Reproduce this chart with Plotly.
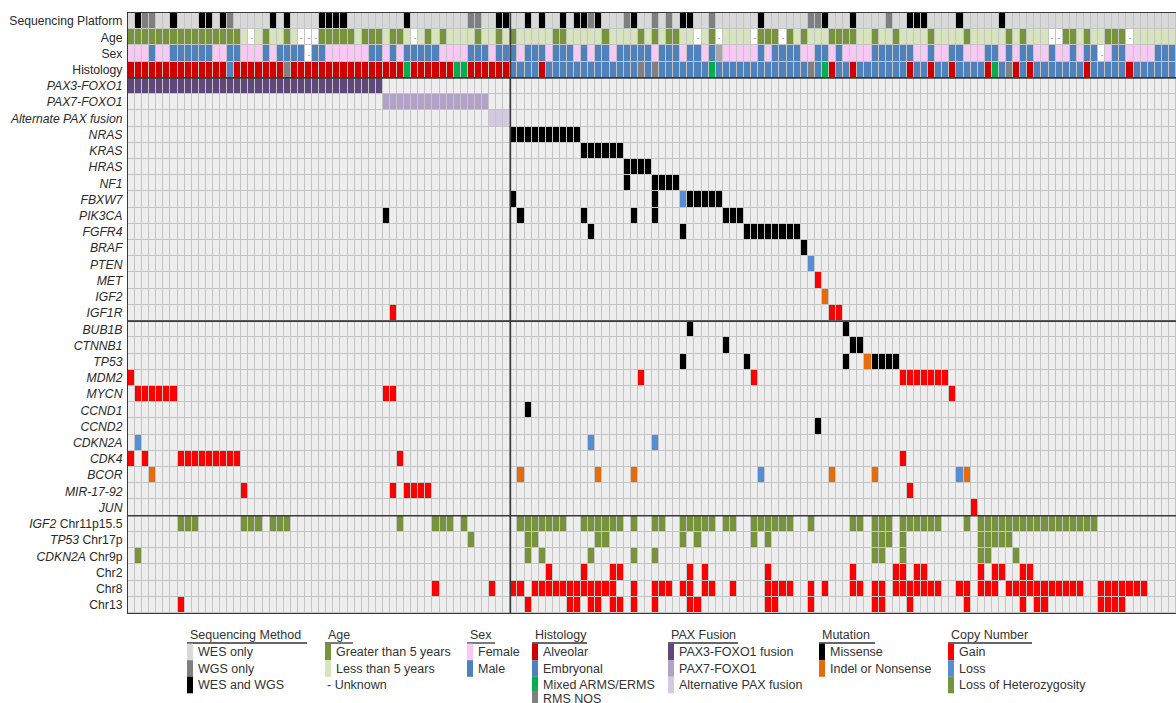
import plotly.graph_objects as go

N_SAMPLES = 148


def expand(items):
    out = []
    for it in items:
        if isinstance(it, tuple):
            out.extend(range(it[0], it[1] + 1))
        else:
            out.append(it)
    return out


row_labels = [
    "Sequencing Platform", "Age", "Sex", "Histology",
    "<i>PAX3-FOXO1</i>", "<i>PAX7-FOXO1</i>", "<i>Alternate PAX fusion</i>",
    "<i>NRAS</i>", "<i>KRAS</i>", "<i>HRAS</i>", "<i>NF1</i>", "<i>FBXW7</i>", "<i>PIK3CA</i>",
    "<i>FGFR4</i>", "<i>BRAF</i>", "<i>PTEN</i>", "<i>MET</i>", "<i>IGF2</i>", "<i>IGF1R</i>",
    "<i>BUB1B</i>", "<i>CTNNB1</i>", "<i>TP53</i>", "<i>MDM2</i>", "<i>MYCN</i>", "<i>CCND1</i>",
    "<i>CCND2</i>", "<i>CDKN2A</i>", "<i>CDK4</i>", "<i>BCOR</i>", "<i>MIR-17-92</i>", "<i>JUN</i>",
    "<i>IGF2</i> Chr11p15.5", "<i>TP53</i> Chr17p", "<i>CDKN2A</i> Chr9p", "Chr2", "Chr8", "Chr13",
]

# ---- clinical tracks (sample column indices) ----
seq_wes_and_wgs = [1, 6, 10, 11, 13, 20, 22, 27, 28, 29, 30, 39, 52, 53, 56, 58, 61, 63, 64, 66,
                   71, 78, 79, 89, 98, 102, 110, 111, 112, 117, 123]
seq_wgs_only = [2, 3, 14, 48, 49, 65, 70, 74, 76, 82, 96, 97, 107]

age_over5 = [(0, 15), 19, 22, (27, 31), (33, 35), (37, 38), 42, 44, 49, 52, 54, (60, 61), 67, 72, 74,
             (76, 77), 82, (89, 91), 93, 95, (99, 102), 105, 108, 113, 118, 124, 126, (132, 133), 135,
             (138, 140)]
age_unknown = [17, 24, 25, 26, 40, 80, 83, 88, 92, 130, 131, 141]

sex_female = [(0, 2), (4, 5), (12, 13), (16, 18), 20, (28, 33), 36, 38, (44, 47), 51, 55, 59, 63, 65,
              68, 74, 78, 81, (84, 88), 90, (95, 96), 99, (101, 104), (111, 112), (114, 115),
              (118, 120), 123, 125, (128, 129), (131, 132), 134, 138, (141, 144)]
sex_unknown = [25, 137]
sex_not_available = [83]

hist_alveolar = [(0, 13), (15, 21), (23, 38), (40, 45), (48, 53), 58, 99, 102, 110, 113, 116, 121,
                 125, 127, 135, 141]
hist_mixed = [39, 46, 47, 82, 98, 122]
hist_nos = [22, 72, 74, 96, 124]

pax3_foxo1 = [(0, 35)]
pax7_foxo1 = [(36, 50)]
alt_pax = [(51, 53)]

# ---- mutation / copy-number rows: code -> samples ----
# M missense, I indel/nonsense, G gain, L loss, H loss of heterozygosity
NRAS = {"M": [(54, 63)]}
KRAS = {"M": [(64, 69)]}
HRAS = {"M": [(70, 73)]}
NF1 = {"M": [70, (74, 77)]}
FBXW7 = {"M": [54, 74, (79, 83)], "L": [78]}
PIK3CA = {"M": [36, 55, 64, 71, 74, (84, 86)]}
FGFR4 = {"M": [65, 78, (87, 94)]}
BRAF = {"M": [95]}
PTEN = {"L": [96]}
MET = {"G": [97]}
IGF2 = {"I": [98]}
IGF1R = {"G": [37, (99, 100)]}
BUB1B = {"M": [79, 101]}
CTNNB1 = {"M": [84, (102, 103)]}
TP53 = {"M": [78, 87, 101, (105, 108)], "I": [104]}
MDM2 = {"G": [0, 72, 88, (109, 115)]}
MYCN = {"G": [(1, 6), (36, 37), 116]}
CCND1 = {"M": [56]}
CCND2 = {"M": [97]}
CDKN2A = {"L": [1, 65, 74]}
CDK4 = {"G": [0, 2, (7, 15), 38, 109]}
BCOR = {"I": [3, 55, 66, 71, 99, 105, 118], "L": [89, 117]}
MIR17_92 = {"G": [16, 37, (39, 42), 110]}
JUN = {"G": [119]}
IGF2_CHR11P = {"H": [(7, 9), (16, 18), (20, 22), 38, (43, 45), 47, (55, 61), (64, 69), 71, (74, 75),
                     (78, 82), (84, 85), (88, 93), 96, (102, 103), (105, 107), (109, 114), 118,
                     (120, 136)]}
TP53_CHR17P = {"H": [48, (56, 57), (66, 67), 78, 80, 88, 90, (105, 107), 109, (120, 124)]}
CDKN2A_CHR9P = {"H": [1, 56, 58, 65, 71, 74, (105, 106), 109, (120, 121), 125]}
CHR2 = {"G": [59, 64, (68, 69), 79, 81, 90, 102, (108, 109), (111, 112), 120, (122, 123), (126, 127)]}
CHR8 = {"G": [43, 51, (54, 55), (57, 68), 71, (74, 76), (78, 79), (81, 82), 85, (90, 93), 96, 98,
              (102, 103), (105, 106), (108, 114), (117, 118), (120, 122), (124, 134), (137, 143)]}
CHR13 = {"G": [7, 56, (62, 63), (65, 66), (68, 69), 71, 74, (79, 80), (90, 91), 96, (105, 106), 110,
               118, 126, (128, 129), (137, 140)]}

event_rows = [NRAS, KRAS, HRAS, NF1, FBXW7, PIK3CA, FGFR4, BRAF, PTEN, MET, IGF2, IGF1R,
              BUB1B, CTNNB1, TP53, MDM2, MYCN, CCND1, CCND2, CDKN2A, CDK4, BCOR, MIR17_92, JUN,
              IGF2_CHR11P, TP53_CHR17P, CDKN2A_CHR9P, CHR2, CHR8, CHR13]

# ---- colour codes ----
palette = [
    ("empty", "#eeeeee"),
    ("wes", "#d9d9d9"), ("wgs", "#7f7f7f"), ("both", "#000000"),
    ("age_o", "#77933c"), ("age_y", "#d7e4bd"), ("unk", "#ffffff"),
    ("female", "#f8c9f4"), ("male", "#4f81bd"), ("sex_na", "#a6a6a6"),
    ("alv", "#d00000"), ("emb", "#4f81bd"), ("mix", "#00b050"), ("nos", "#808080"),
    ("pax3", "#5f497a"), ("pax7", "#b3a2c7"), ("altpax", "#d3c9e2"),
    ("M", "#000000"), ("I", "#e46c0a"), ("G", "#ff0000"), ("L", "#558ed5"), ("H", "#77933c"),
]
code = {name: i for i, (name, _) in enumerate(palette)}
n_codes = len(palette)
colorscale = []
for i, (_, col) in enumerate(palette):
    colorscale.append([i / n_codes, col])
    colorscale.append([(i + 1) / n_codes, col])

n_rows = len(row_labels)
z = [[code["empty"]] * N_SAMPLES for _ in range(n_rows)]
txt = [[""] * N_SAMPLES for _ in range(n_rows)]


def fill(r, cols, name):
    for c in expand(cols):
        if 0 <= c < N_SAMPLES:
            z[r][c] = code[name]


fill(0, [(0, N_SAMPLES - 1)], "wes")
fill(0, seq_wgs_only, "wgs")
fill(0, seq_wes_and_wgs, "both")
fill(1, [(0, N_SAMPLES - 1)], "age_y")
fill(1, age_over5, "age_o")
fill(1, age_unknown, "unk")
for c in expand(age_unknown):
    txt[1][c] = "-"
fill(2, [(0, N_SAMPLES - 1)], "male")
fill(2, sex_female, "female")
fill(2, sex_unknown, "unk")
fill(2, sex_not_available, "sex_na")
for c in expand(sex_unknown):
    txt[2][c] = "-"
fill(3, [(0, N_SAMPLES - 1)], "emb")
fill(3, hist_alveolar, "alv")
fill(3, hist_mixed, "mix")
fill(3, hist_nos, "nos")
fill(4, pax3_foxo1, "pax3")
fill(5, pax7_foxo1, "pax7")
fill(6, alt_pax, "altpax")
for k, ev in enumerate(event_rows):
    for name, cols in ev.items():
        fill(7 + k, cols, name)

FIG_W, FIG_H = 1176, 703
# plot-area edges in pixels
L, R, T, B = 128, 1176, 13, 613
FONT = "Liberation Sans, Arial, sans-serif"

fig = go.Figure(go.Heatmap(
    z=z, x=list(range(N_SAMPLES)), y=list(range(n_rows)),
    text=txt, texttemplate="%{text}", textfont=dict(size=8, color="#777777"),
    colorscale=colorscale, zmin=-0.5, zmax=n_codes - 0.5, showscale=False,
    xgap=1, ygap=1, hoverinfo="skip",
))


def px_x(px):
    return (px - L) / (R - L)


def px_y(py):
    return (B - py) / (B - T)


shapes = []
n_clin, n_fusion, n_mut, n_cna = 4, 3, 12, 12
n_left = len(expand(pax3_foxo1)) + len(expand(pax7_foxo1)) + len(expand(alt_pax))
for yb in [n_clin - 0.5, n_clin + n_fusion + n_mut - 0.5, n_clin + n_fusion + n_mut + n_cna - 0.5]:
    shapes.append(dict(type="line", xref="x", yref="y", x0=-0.5, x1=N_SAMPLES - 0.5, y0=yb, y1=yb,
                       line=dict(color="#3a3a3a", width=1.6)))
shapes.append(dict(type="line", xref="x", yref="y", x0=n_left - 0.5, x1=n_left - 0.5, y0=-0.5,
                   y1=n_rows - 0.5, line=dict(color="#3a3a3a", width=1.6)))

annotations = []
legend_groups = [
    ("Sequencing Method", 187, 120, [("WES only", "#d9d9d9"), ("WGS only", "#7f7f7f"),
                                     ("WES and WGS", "#000000")]),
    ("Age", 325, 28, [("Greater than 5 years", "#77933c"), ("Less than 5 years", "#d7e4bd"),
                      ("- Unknown", None)]),
    ("Sex", 467, 28, [("Female", "#f8c9f4"), ("Male", "#4f81bd")]),
    ("Histology", 532, 55, [("Alveolar", "#d00000"), ("Embryonal", "#4f81bd"),
                            ("Mixed ARMS/ERMS", "#00b050"), ("RMS NOS", "#808080")]),
    ("PAX Fusion", 668, 70, [("PAX3-FOXO1 fusion", "#5f497a"), ("PAX7-FOXO1", "#b3a2c7"),
                             ("Alternative PAX fusion", "#d3c9e2")]),
    ("Mutation", 819, 56, [("Missense", "#000000"), ("Indel or Nonsense", "#e46c0a")]),
    ("Copy Number", 948, 84, [("Gain", "#ff0000"), ("Loss", "#558ed5"),
                              ("Loss of Heterozygosity", "#77933c")]),
]
item_y = [652, 668.5, 685, 699]
for title, gx, ul, items in legend_groups:
    annotations.append(dict(text=title, x=px_x(gx + 1), y=px_y(635), xref="paper", yref="paper",
                            xanchor="left", yanchor="middle", showarrow=False,
                            font=dict(size=12.5, color="#333333", family=FONT)))
    shapes.append(dict(type="line", xref="paper", yref="paper", x0=px_x(gx), x1=px_x(gx + ul),
                       y0=px_y(643), y1=px_y(643), line=dict(color="#333333", width=1.3)))
    for i, (lab, col) in enumerate(items):
        yc = item_y[i]
        if col is not None:
            shapes.append(dict(type="rect", xref="paper", yref="paper", x0=px_x(gx), x1=px_x(gx + 6),
                               y0=px_y(yc + 8.3), y1=px_y(yc - 8.3), fillcolor=col, line_width=0,
                               layer="above"))
            tx = gx + 9
        else:
            tx = gx
        annotations.append(dict(text=lab, x=px_x(tx), y=px_y(yc), xref="paper", yref="paper",
                                xanchor="left", yanchor="middle", showarrow=False,
                                font=dict(size=12.5, color="#333333", family=FONT)))

fig.update_layout(
    width=FIG_W, height=FIG_H,
    margin=dict(l=L, r=FIG_W - R, t=T, b=FIG_H - B, pad=0),
    paper_bgcolor="white", plot_bgcolor="#c4c4c4",
    font=dict(family=FONT, size=12, color="#2a2a2a"),
    xaxis=dict(range=[-0.5, N_SAMPLES - 0.5], showticklabels=False, showgrid=False, zeroline=False,
               showline=True, mirror=True, linecolor="#3a3a3a", linewidth=1.2, ticks=""),
    yaxis=dict(range=[n_rows - 0.5, -0.5], tickmode="array", tickvals=list(range(n_rows)),
               ticktext=row_labels, showgrid=False, zeroline=False, showline=True, mirror=True,
               linecolor="#3a3a3a", linewidth=1.2, ticks="outside", ticklen=2,
               tickcolor="rgba(0,0,0,0)", tickfont=dict(size=12.2, color="#2a2a2a")),
    shapes=shapes, annotations=annotations, showlegend=False,
)

# remove the page's default body margin so the figure sits at the window origin
fig.write_html("out.html", config={"displayModeBar": False},
               post_script="document.body.style.margin='0';document.body.style.overflow='hidden';")
